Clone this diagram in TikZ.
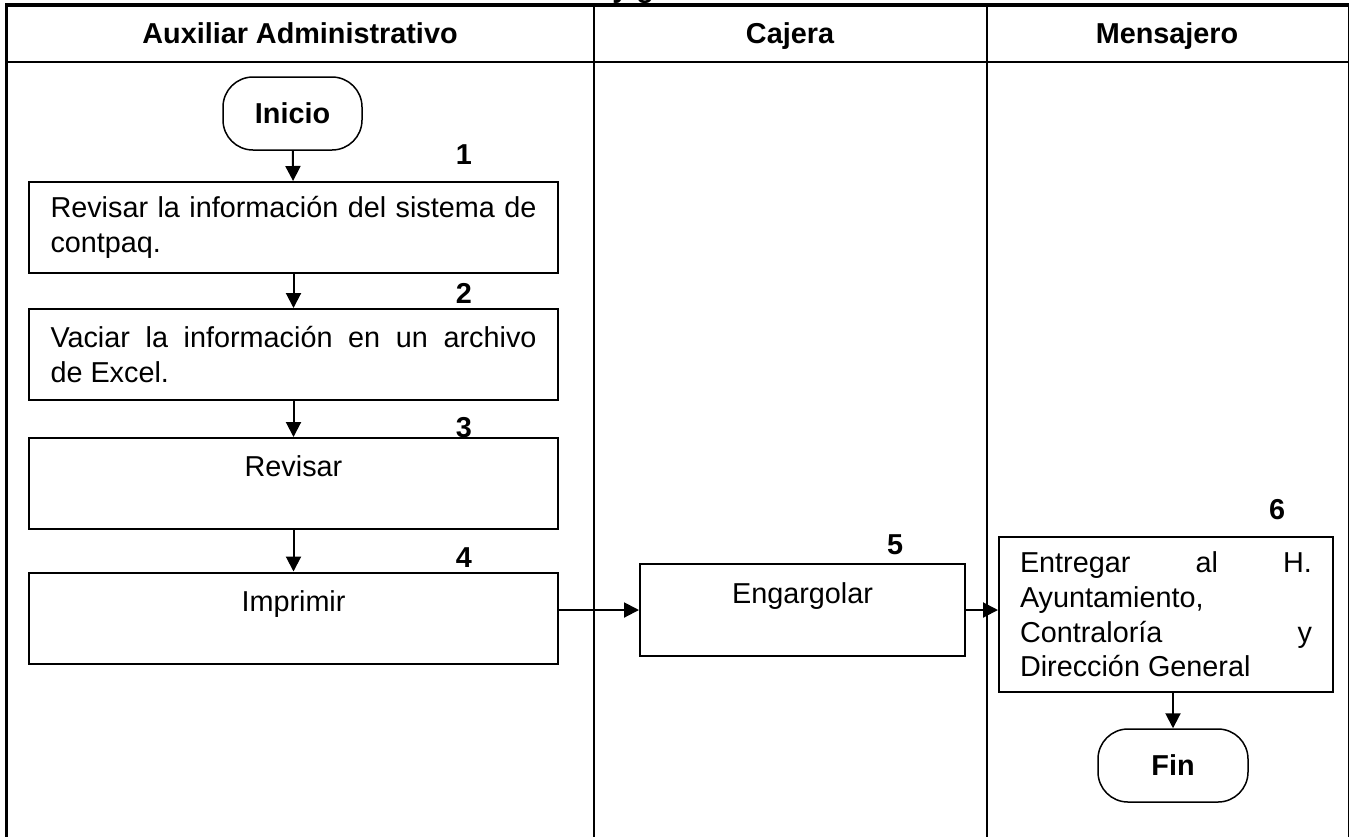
\documentclass[tikz,border=0pt]{standalone}
\usepackage{fontspec}
\setmainfont{Liberation Sans}
\usetikzlibrary{arrows.meta}

\begin{document}
\begin{tikzpicture}[x=0.5pt,y=-0.5pt,
  every node/.style={font=\fontsize{14.4}{17.3}\selectfont},
  encabezado/.style={anchor=base,font=\fontsize{14.4}{17.3}\selectfont\bfseries},
  terminal/.style={draw,line width=0.75pt,rounded corners=15pt,minimum width=69.5pt,minimum height=36.5pt,font=\fontsize{14.4}{17.3}\selectfont\bfseries},
  paso/.style={draw,line width=1pt,inner sep=0pt,minimum width=264.5pt,minimum height=45.5pt},
  texto/.style={text width=243pt,align=justify,execute at begin node={\hyphenpenalty=10000\relax\tolerance=10000\relax}},
  numero/.style={inner sep=0pt,font=\fontsize{14.4}{17.3}\selectfont\bfseries},
  flecha/.style={-{Triangle[length=7.5pt,width=7.5pt]},line width=1pt}]
\useasboundingbox (0,0) rectangle (1349,837);
% titulo cortado arriba
\node[encabezado,anchor=base west,inner sep=0pt] (titulo) at (612,-3) {y g};
% marco y carriles
\draw[line width=1.7pt] (5,5) -- (1349,5);
\draw[line width=1.65pt] (6.6,3.3) -- (6.6,837);
\draw[line width=0.5pt] (1348,5) -- (1348,837);
\draw[line width=0.85pt] (6.6,61.8) -- (1348,61.8);
\draw[line width=0.75pt] (594,5) -- (594,837);
\draw[line width=0.75pt] (987,5) -- (987,837);
\node[encabezado] (aux) at (300,43) {Auxiliar Administrativo};
\node[encabezado] (caj) at (790,43) {Cajera};
\node[encabezado] (men) at (1167,43) {Mensajero};
% pasos
\node[terminal] (inicio) at (292.5,113.5) {Inicio};
\node[paso,texto] (paso1) at (293.5,227.5) {Revisar la información del sistema de\linebreak contpaq.};
\node[paso,texto] (paso2) at (293.5,354.5) {Vaciar la información en un archivo\linebreak de Excel.};
\node[paso,align=center] (paso3) at (293.5,483.5) {Revisar\\\mbox{}};
\node[paso,align=center] (paso4) at (293.5,618) {Imprimir\\\mbox{}};
\node[paso,align=center,minimum width=162.5pt,minimum height=46pt] (paso5) at (802.5,610) {Engargolar\\\mbox{}};
\node[paso,texto,text width=146pt,minimum width=167pt,minimum height=77.5pt] (paso6) at (1166,614.5)
  {Entregar al H.\linebreak Ayuntamiento,\newline Contraloría y\linebreak Dirección General};
\node[terminal,minimum width=75pt] (fin) at (1173,765.5) {Fin};
% numeros
\node[numero] (n1) at (464,155) {1};
\node[numero] (n2) at (464,293) {2};
\node[numero] (n3) at (464,428) {3};
\node[numero] (n4) at (464,558) {4};
\node[numero] (n5) at (895,545) {5};
\node[numero] (n6) at (1277,510) {6};
% flechas
\draw[flecha] (inicio) -- (paso1);
\draw[flecha] (paso1) -- (paso2);
\draw[flecha] (paso2) -- (paso3);
\draw[flecha] (paso3) -- (paso4);
\draw[flecha] (paso4.east |- paso5.west) -- (paso5.west);
\draw[flecha] (paso5.east) -- (paso5.east -| paso6.west);
\draw[flecha] (fin.north |- paso6.south) -- (fin.north);
\end{tikzpicture}
\end{document}
